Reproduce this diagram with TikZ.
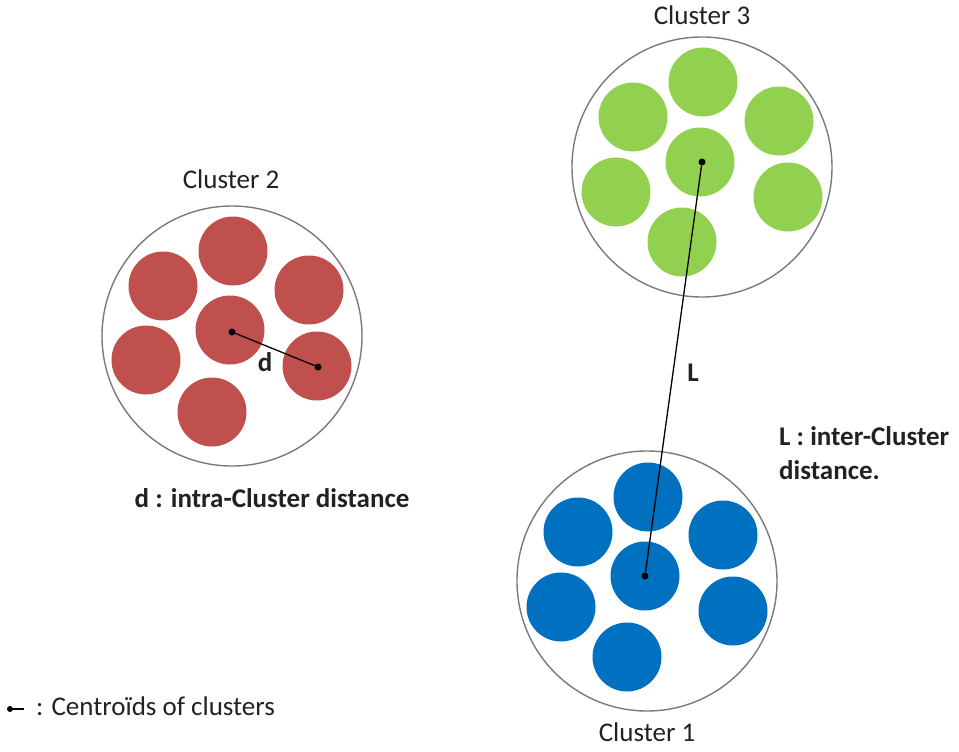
\documentclass[tikz,border=0pt]{standalone}
\usepackage{fontspec}
\setmainfont{Carlito}
\definecolor{cred}{HTML}{C0504D}
\definecolor{cgreen}{HTML}{92D050}
\definecolor{cblue}{HTML}{0070C0}
\definecolor{ring}{HTML}{7A7A7A}
\definecolor{txt}{HTML}{222222}
\begin{document}
\begin{tikzpicture}[x=1pt,y=-1pt,
  bigc/.style={circle, draw=ring, line width=1.4pt, inner sep=0pt, minimum size=260pt},
  pt/.style={circle, fill=#1, draw=none, inner sep=0pt, minimum size=69pt},
  cdot/.style={circle, fill=black, inner sep=0pt, minimum size=7pt},
  link/.style={draw=black, line width=1.3pt},
  lab/.style={text=txt, font=\fontsize{27}{32}\selectfont, inner sep=0pt},
  blab/.style={text=txt, font=\fontsize{27}{34}\selectfont\bfseries, inner sep=0pt}]
\useasboundingbox (0,0) rectangle (959,752);
% Cluster 2
\node[bigc] (c2) at (232,336) {};
\node[pt=cred] (c2a) at (233,251) {};
\node[pt=cred] (c2b) at (163,286) {};
\node[pt=cred] (c2c) at (309,290) {};
\node[pt=cred] (c2d) at (230,330) {};
\node[pt=cred] (c2e) at (146,360) {};
\node[pt=cred] (c2f) at (317,366) {};
\node[pt=cred] (c2g) at (212,412) {};
\node[cdot] (g2) at (232,332) {};
\node[cdot] (p2) at (318,367) {};
\draw[link] (g2) -- (p2);
\node[blab] (dl) at (265,362) {d};
\node[lab] (t2) at (231,179) {Cluster 2};
\node[blab] (dtext) at (272,498) {d : intra-Cluster distance};
% Cluster 3
\node[bigc] (c3) at (702,167) {};
\node[pt=cgreen] (c3a) at (703,82) {};
\node[pt=cgreen] (c3b) at (633,117) {};
\node[pt=cgreen] (c3c) at (779,121) {};
\node[pt=cgreen] (c3d) at (700,162) {};
\node[pt=cgreen] (c3e) at (616,192) {};
\node[pt=cgreen] (c3f) at (788,197) {};
\node[pt=cgreen] (c3g) at (682,242) {};
\node[cdot] (g3) at (702,162) {};
\node[lab] (t3) at (702,15) {Cluster 3};
% Cluster 1
\node[bigc] (c1) at (647,581) {};
\node[pt=cblue] (c1a) at (648,497) {};
\node[pt=cblue] (c1b) at (578,532) {};
\node[pt=cblue] (c1c) at (723,535) {};
\node[pt=cblue] (c1d) at (645,576) {};
\node[pt=cblue] (c1e) at (561,607) {};
\node[pt=cblue] (c1f) at (733,611) {};
\node[pt=cblue] (c1g) at (627,657) {};
\node[cdot] (g1) at (645,576) {};
\node[lab] (t1) at (647,732) {Cluster 1};
% inter-cluster link
\draw[link] (g3) -- (g1);
\node[blab] (Ll) at (693,373) {L};
\node[blab, align=left, anchor=north west] (Ltext) at (779,426) {L : inter-Cluster\\distance.};
% legend
\node[cdot, minimum size=6pt] (lg) at (10,709) {};
\coordinate (lge) at (24,709);
\draw[link] (lg) -- (lge);
\node[lab, anchor=west] (legt) at (36,706) {: Centroïds of clusters};
\end{tikzpicture}
\end{document}
